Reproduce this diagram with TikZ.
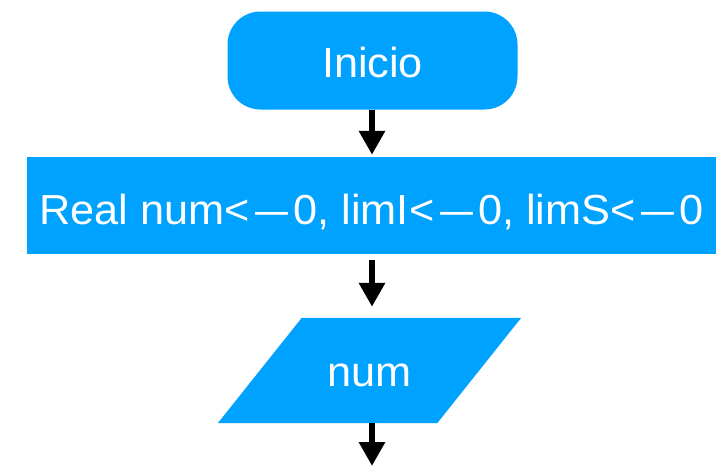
\documentclass[tikz,border=0pt]{standalone}
\usepackage{fontspec}
\setmainfont{Liberation Sans}[FakeStretch=1.03]
\usepackage{tikz}
\usetikzlibrary{arrows.meta,backgrounds}

\definecolor{flujo}{HTML}{00A2FF}
% asignacion: flecha corta hacia la izquierda
\newcommand{\asigna}{<\hspace{6pt}\scalebox{0.76}[1]{—}\hspace{5pt}}

\tikzset{
  bloque/.style={fill=flujo,text=white,inner sep=0pt,text depth=0pt,font=\fontsize{42}{50}\selectfont},
  flecha/.style={line width=6pt,-{Triangle[width=25pt,length=24pt]}}
}

\begin{document}
\begin{tikzpicture}[x=1pt,y=-1pt]
\useasboundingbox (0,0) rectangle (726,466);
% inicio
\node[bloque,rounded corners=33pt,minimum width=290pt,minimum height=98pt,text height=33pt] (inicio) at (372.5,60.5) {Inicio};
% declaracion
\node[bloque,minimum width=689pt,minimum height=97pt,text height=37pt] (decl) at (371.5,205.5) {Real num\asigna0, limI\asigna0, limS\asigna0};
% lectura (paralelogramo)
\node[bloque,fill=none,minimum width=219pt,minimum height=105pt,text height=31pt] (leer) at (369.5,370.5) {num};
\begin{scope}[on background layer]
\fill[flujo] ([xshift=42pt]leer.north west) -- ([xshift=42pt]leer.north east)
  -- ([xshift=-42pt]leer.south east) -- ([xshift=-42pt]leer.south west) -- cycle;
\end{scope}
\coordinate (fin) at (372,466);
\draw[flecha,shorten >=2pt] (inicio.south -| fin) -- (decl.north -| fin);
\draw[flecha,shorten <=6pt,shorten >=11pt] (decl.south -| fin) -- (leer.north -| fin);
\draw[flecha] (leer.south -| fin) -- (fin);
\end{tikzpicture}
\end{document}
